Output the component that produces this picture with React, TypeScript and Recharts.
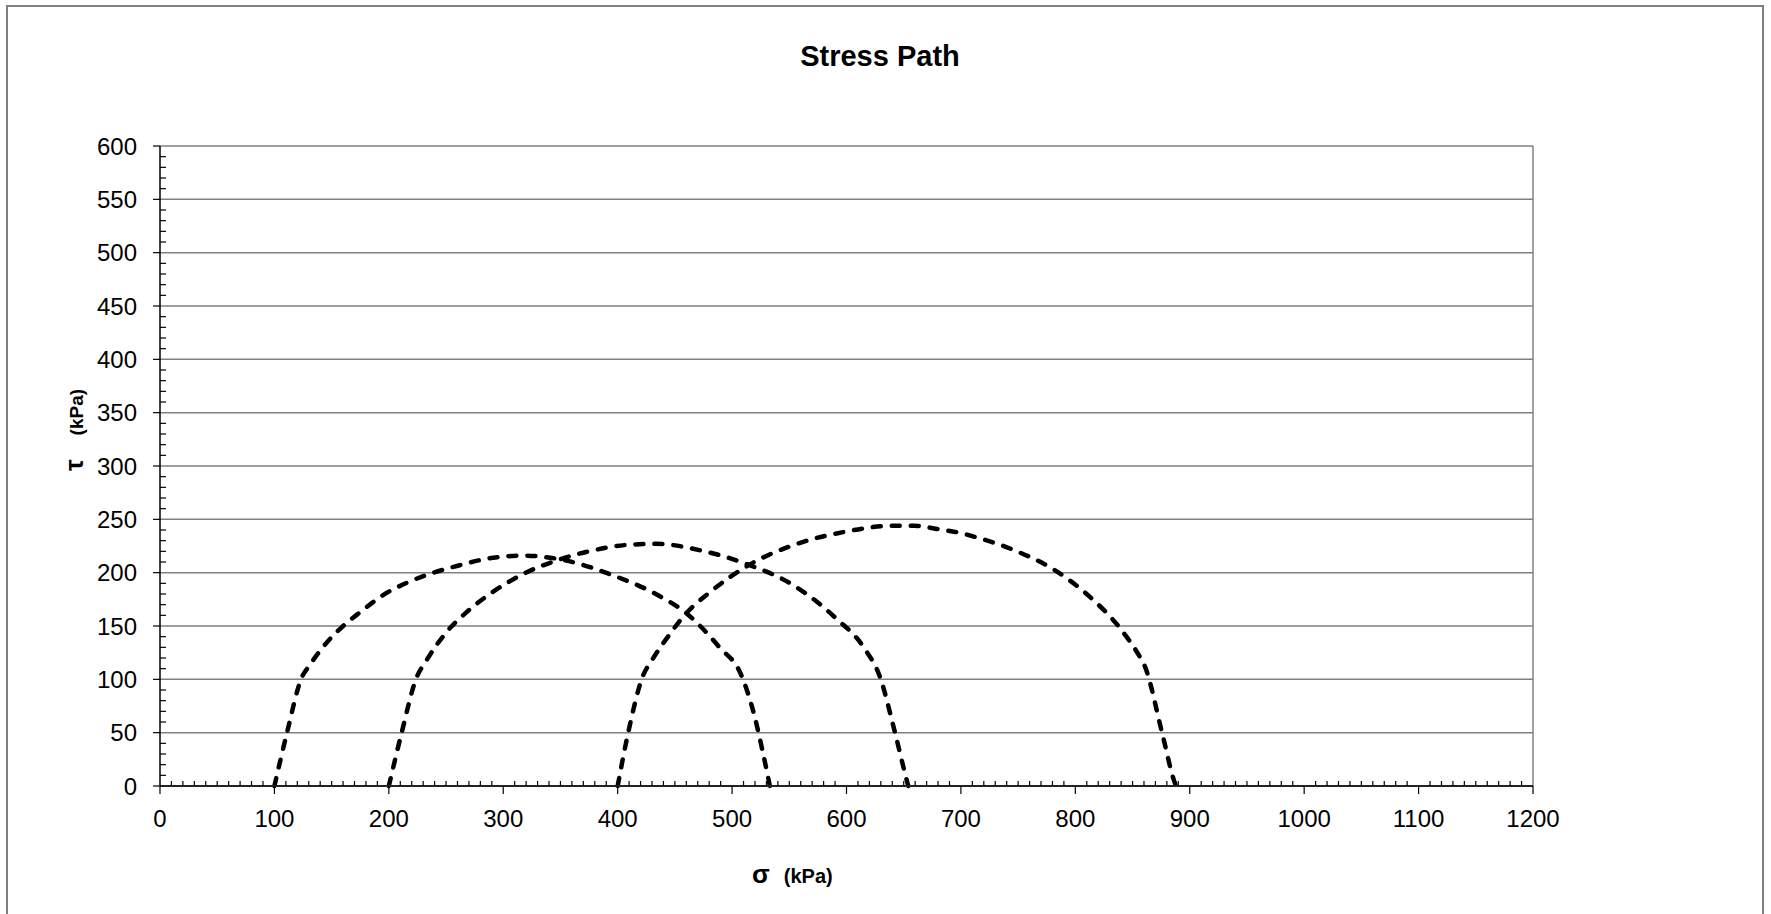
import { CartesianGrid, Line, LineChart, ReferenceLine, XAxis, YAxis } from "recharts";

const FONT = '"Liberation Sans", Arial, sans-serif';

const X_LABELS = [0, 100, 200, 300, 400, 500, 600, 700, 800, 900, 1000, 1100, 1200];
const Y_LABELS = [0, 50, 100, 150, 200, 250, 300, 350, 400, 450, 500, 550, 600];
// minor ticks every 10 kPa on both axes
const X_TICKS = Array.from({ length: 121 }, (_, i) => i * 10);
const Y_TICKS = Array.from({ length: 61 }, (_, i) => i * 10);

// [sigma, tau] in kPa
const CIRCLE_A: [number, number][] = [
  [100, 0], [111, 50], [124, 102], [130, 112], [143, 131], [159, 149], [175, 163],
  [195, 179], [219, 192], [239, 200], [262, 207], [291, 214], [318, 216], [341, 214],
  [364, 209], [392, 199], [435, 179], [460, 162], [489, 130], [508, 104], [519, 68],
  [527, 31], [533, 0],
];

const CIRCLE_B: [number, number][] = [
  [200, 0], [211, 49], [224, 101], [233, 118], [251, 145], [268, 163], [291, 182],
  [318, 199], [351, 213], [379, 221], [408, 226], [434, 227], [472, 221], [513, 208],
  [554, 188], [591, 157], [615, 130], [630, 100], [641, 56], [653, 4], [654, 0],
];

const CIRCLE_C: [number, number][] = [
  [400, 0], [409, 49], [422, 103], [430, 118], [446, 143], [460, 162], [481, 182],
  [516, 208], [554, 226], [597, 238], [641, 244], [659, 244], [679, 241], [696, 238],
  [714, 233], [749, 220], [781, 203], [813, 177], [839, 148], [858, 118], [860, 114],
  [876, 49], [886, 6], [888, 0],
];

const SERIES = [CIRCLE_A, CIRCLE_B, CIRCLE_C];

const toPoints = (pairs: [number, number][]) => pairs.map(([sigma, tau]) => ({ sigma, tau }));

function XTick(props: any) {
  const { x, y, payload } = props;
  const v = payload.value;
  if (v % 100 !== 0) {
    return <line x1={x} x2={x} y1={y} y2={y - 5} stroke="#000" strokeWidth={1.2} />;
  }
  return (
    <g>
      <line x1={x} x2={x} y1={y} y2={y + 8} stroke="#000" strokeWidth={1.2} />
      <text x={x} y={y + 41} textAnchor="middle" fontSize={24} fontFamily={FONT} fill="#000">
        {v}
      </text>
    </g>
  );
}

function YTick(props: any) {
  const { x, y, payload } = props;
  const v = payload.value;
  if (v % 50 !== 0) {
    return <line x1={x} x2={x + 6} y1={y} y2={y} stroke="#000" strokeWidth={1.2} />;
  }
  return (
    <g>
      <line x1={x - 7} x2={x} y1={y} y2={y} stroke="#000" strokeWidth={1.2} />
      <text x={x - 23} y={y + 8.5} textAnchor="end" fontSize={24} fontFamily={FONT} fill="#000">
        {v}
      </text>
    </g>
  );
}

export default function App() {
  return (
    <div
      style={{
        position: "absolute",
        left: 0,
        top: 0,
        width: 1771,
        height: 914,
        overflow: "hidden",
        background: "#fff",
      }}
    >
      <div style={{ position: "absolute", left: 0, top: 0 }}>
        <LineChart width={1771} height={914} margin={{ top: 146, right: 238, bottom: 68, left: 0 }}>
          <CartesianGrid vertical={false} horizontalValues={Y_LABELS} stroke="#808080" strokeWidth={1.5} />
          <XAxis
            type="number"
            dataKey="sigma"
            domain={[0, 1200]}
            ticks={X_TICKS}
            interval={0}
            tickSize={0}
            tickMargin={0}
            tickLine={false}
            tick={<XTick />}
            axisLine={{ stroke: "#222", strokeWidth: 2 }}
            height={60}
          />
          <YAxis
            type="number"
            domain={[0, 600]}
            ticks={Y_TICKS}
            interval={0}
            tickSize={0}
            tickMargin={0}
            tickLine={false}
            tick={<YTick />}
            axisLine={{ stroke: "#000", strokeWidth: 1.5 }}
            width={160}
          />
          <ReferenceLine x={1200} stroke="#808080" strokeWidth={1.5} />
          {SERIES.map((s, i) => (
            <Line
              key={i}
              data={toPoints(s)}
              dataKey="tau"
              type="monotone"
              stroke="#000"
              strokeWidth={4.5}
              strokeDasharray="8 11"
              strokeLinecap="round"
              strokeLinejoin="round"
              dot={false}
              activeDot={false}
              isAnimationActive={false}
            />
          ))}
        </LineChart>
      </div>
      <svg
        width={1771}
        height={914}
        style={{ position: "absolute", left: 0, top: 0, pointerEvents: "none" }}
      >
        <rect x={7} y={6} width={1756} height={1000} fill="none" stroke="#808080" strokeWidth={2} />
        <text x={880} y={66} textAnchor="middle" fontSize={29} fontWeight="bold" fontFamily={FONT}>
          Stress Path
        </text>
        <text x={752} y={883} fontWeight="bold" fontFamily={FONT}>
          <tspan fontSize={26}>σ</tspan>
          <tspan fontSize={20} dx={14}>(kPa)</tspan>
        </text>
        <text
          x={83}
          y={430}
          transform="rotate(-90 83 430)"
          textAnchor="middle"
          fontWeight="bold"
          fontFamily={FONT}
        >
          <tspan fontSize={26}>τ</tspan>
          <tspan fontSize={19} dx={24}>(kPa)</tspan>
        </text>
      </svg>
    </div>
  );
}
